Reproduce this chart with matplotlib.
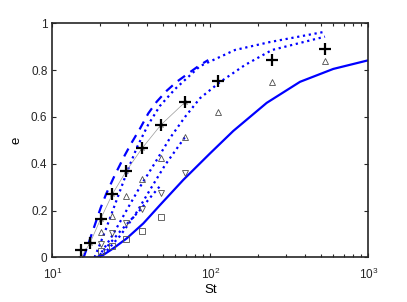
import numpy as np
import matplotlib.pyplot as plt

plt.rcParams['font.family'] = ['Liberation Sans', 'DejaVu Sans']

# experimental data
st_plus = [15.2, 17.3, 20.2, 24.0, 29.4, 37.0, 48.7, 69.2, 111.4, 245.7, 532]
e_plus = [0.031, 0.060, 0.163, 0.270, 0.369, 0.466, 0.566, 0.663, 0.754, 0.843, 0.892]

st_star = [15.2, 17.3, 20.2, 24.0, 29.4, 37.0, 48.7, 69.2]
e_star = [0.0, 0.060, 0.163, 0.270, 0.369, 0.466, 0.566, 0.663]

st_up = [20.2, 24.0, 29.4, 37.0, 48.7, 69.2, 111.4, 245.7, 532]
e_up = [0.109, 0.177, 0.260, 0.334, 0.424, 0.516, 0.620, 0.748, 0.840]

st_down = [20.2, 24.0, 29.4, 37.0, 48.7, 69.2]
e_down = [0.057, 0.103, 0.148, 0.205, 0.274, 0.359]

st_sq = [20.2, 24.0, 29.4, 37.0, 48.7]
e_sq = [0.027, 0.050, 0.078, 0.111, 0.171]

# model curves
st_dash = [15.8, 18.2, 20.2, 21.9, 24.9, 28.8, 31.8, 35.9, 40.5, 45.8, 53.0, 61.3, 72.6, 86.1, 97.1]
e_dash = [0.0, 0.12, 0.21, 0.27, 0.352, 0.437, 0.49, 0.55, 0.615, 0.665, 0.712, 0.750, 0.786, 0.822, 0.843]

st_dot1 = [18.5, 20.0, 21.6, 26.1, 29.7, 34.4, 40.3, 48.0, 59.8, 86.1, 143.3, 238.6, 532]
e_dot1 = [0.0, 0.055, 0.112, 0.262, 0.365, 0.471, 0.565, 0.647, 0.719, 0.817, 0.886, 0.920, 0.964]

st_dot2 = [19.6, 20.0, 23.9, 30.1, 35.9, 44.7, 55.6, 69.2, 86.1, 115.2, 165.9, 245.8, 532]
e_dot2 = [0.0, 0.01, 0.091, 0.211, 0.301, 0.404, 0.510, 0.600, 0.680, 0.749, 0.822, 0.886, 0.943]

st_dot3 = [20.9, 26.8, 33.4, 41.5, 51.7, 69.2]
e_dot3 = [0.01, 0.091, 0.181, 0.288, 0.394, 0.514]

st_dot4 = [20.0, 23.2, 26.8, 31.0, 35.9, 41.5, 48.7]
e_dot4 = [0.01, 0.06, 0.11, 0.156, 0.202, 0.254, 0.309]

st_solid = [19.1, 21.0, 24.3, 29.6, 37.7, 48.0, 67.5, 99.6, 139.8, 227.5, 369.8, 600, 1000]
e_solid = [0.0, 0.01, 0.038, 0.081, 0.145, 0.223, 0.331, 0.444, 0.540, 0.660, 0.750, 0.805, 0.842]

fig = plt.figure(figsize=(4.07, 3.02), dpi=100)
ax = fig.add_axes([0.1285, 0.148, 0.7764, 0.7748])

blue = (0, 0, 1)
ax.plot(st_dash, e_dash, '--', color=blue, lw=1.6, dashes=(4, 3))
ax.plot(st_dot1, e_dot1, ':', color=blue, lw=1.6)
ax.plot(st_dot2, e_dot2, ':', color=blue, lw=1.6)
ax.plot(st_dot3, e_dot3, ':', color=blue, lw=1.6)
ax.plot(st_dot4, e_dot4, ':', color=blue, lw=1.6)
ax.plot(st_solid, e_solid, '-', color=blue, lw=1.6)

ax.plot(st_star, e_star, '-', color='0.6', lw=0.5, marker='*', ms=4,
        mec='0.4', mfc='none', mew=0.5)
ax.plot(st_plus, e_plus, '+', color='k', ms=9, mew=1.6, ls='none')
ax.plot(st_up, e_up, '^', color='0.3', ms=5, mfc='none', mew=0.6, ls='none')
ax.plot(st_down, e_down, 'v', color='0.3', ms=5, mfc='none', mew=0.6, ls='none')
ax.plot(st_sq, e_sq, 's', color='0.3', ms=4, mfc='none', mew=0.6, ls='none')

ax.set_xscale('log')
ax.set_xlim(10, 1000)
ax.set_ylim(0, 1)
ax.set_yticks([0, 0.2, 0.4, 0.6, 0.8, 1])
ax.set_yticklabels(['0', '0.2', '0.4', '0.6', '0.8', '1'])
ax.tick_params(which='both', direction='in', top=True, right=True,
               labelsize=8.5, colors='0.15', width=0.8)
ax.tick_params(which='major', length=3)
ax.tick_params(which='minor', length=2)
ax.tick_params(axis='x', which='major', pad=7)
for s in ax.spines.values():
    s.set_color('0.15')
    s.set_linewidth(1.2)
ax.set_xlabel('St', fontsize=9.5, labelpad=1)
ax.set_ylabel('e', fontsize=9.5, labelpad=6)

fig.savefig('out.png', dpi=100)
